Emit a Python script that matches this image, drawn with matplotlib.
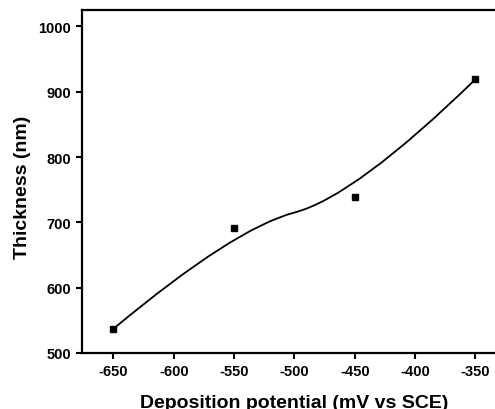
import matplotlib
matplotlib.use("Agg")
import matplotlib.pyplot as plt
from matplotlib.path import Path
from matplotlib.patches import PathPatch

# deposition potential (mV vs SCE) and film thickness (nm)
potential = [-650, -550, -450, -350]
thickness = [537, 691, 739, 919]

xticks = [-650, -600, -550, -500, -450, -400, -350]
yticks = [500, 600, 700, 800, 900, 1000]

plt.rcParams['font.family'] = ['Liberation Sans', 'DejaVu Sans']
plt.rcParams['font.weight'] = 'bold'
plt.rcParams['axes.unicode_minus'] = False

fig = plt.figure(figsize=(4.95, 4.10), dpi=100)
ax = fig.add_axes([82 / 495, 56 / 410, 420 / 495, 343 / 410])

# quadratic B-spline through the points as control polygon
pts = list(zip(potential, thickness))
verts = [pts[0], pts[1]]
codes = [Path.MOVETO, Path.CURVE3]
for i in range(1, len(pts) - 2):
    mid = ((pts[i][0] + pts[i + 1][0]) / 2, (pts[i][1] + pts[i + 1][1]) / 2)
    verts += [mid, pts[i + 1]]
    codes += [Path.CURVE3, Path.CURVE3]
verts.append(pts[-1])
codes.append(Path.CURVE3)
curve = PathPatch(Path(verts, codes), facecolor='none', edgecolor='black',
                  lw=1.3, zorder=2)
ax.add_patch(curve)

ax.plot(potential, thickness, 's', color='black', markersize=4.5, zorder=3)

ax.set_xlim(-676, -328)
ax.set_ylim(500, 1025)
ax.set_xticks(xticks)
ax.set_yticks(yticks)

for s in ax.spines.values():
    s.set_linewidth(1.6)
ax.tick_params(direction='out', length=4.5, width=1.5, labelsize=10.5, pad=3.5)
for lab in ax.get_xticklabels() + ax.get_yticklabels():
    lab.set_fontweight('bold')

ax.set_xlabel('Deposition potential (mV vs SCE)', fontsize=14, fontweight='bold')
ax.set_ylabel('Thickness (nm)', fontsize=14, fontweight='bold')
ax.xaxis.label.set_va('baseline')
ax.xaxis.set_label_coords((294 - 82) / 420, -(408 - 354) / 343)
ax.yaxis.label.set_va('center')
ax.yaxis.set_label_coords(-(82 - 23) / 420, (354 - 187) / 343)

fig.savefig('out.png', dpi=100, facecolor='white')
